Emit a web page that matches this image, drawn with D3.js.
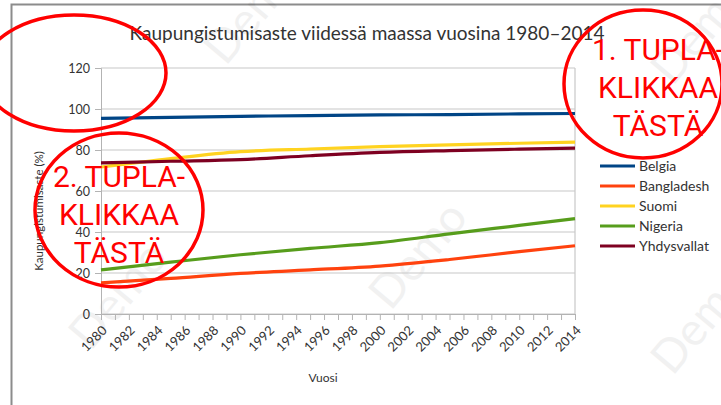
<!DOCTYPE html>
<html>
<head>
<meta charset="utf-8">
<script src="https://cdn.jsdelivr.net/npm/d3@7"></script>
<style>
  html, body { margin: 0; padding: 0; background: #fff; }
  svg { display: block; }
  text { font-family: Lato, "Open Sans", sans-serif; fill: #333; }
  .note { font-family: Roboto, "Liberation Sans", sans-serif; fill: #ff0000; }
</style>
</head>
<body>
<script>
const years = [1980, 1985, 1990, 1995, 2000, 2005, 2010, 2014];
const belgia = [95.4, 95.9, 96.4, 96.8, 97.1, 97.3, 97.6, 97.8];
const bangladesh = [15.2, 17.4, 19.8, 21.5, 23.4, 26.6, 30.4, 33.3];
const suomi = [71.7, 75.8, 79.2, 80.5, 81.6, 82.5, 83.3, 83.8];
const nigeria = [21.5, 25.3, 28.9, 32.0, 34.8, 39.1, 43.2, 46.5];
const yhdysvallat = [73.7, 74.5, 75.3, 77.2, 78.8, 79.7, 80.4, 80.9];
const seriesNames = ['Belgia', 'Bangladesh', 'Suomi', 'Nigeria', 'Yhdysvallat'];
const seriesColors = ['#004586', '#ff420e', '#ffd320', '#579d1c', '#7e0021'];
const yTicks = [0, 20, 40, 60, 80, 100, 120];

const W = 721, H = 405;
const plot = { left: 101, right: 575, top: 68, bottom: 314 };

const svg = d3.select('body').append('svg')
  .attr('width', W)
  .attr('height', H);

// outer frame
svg.append('rect')
  .attr('x', 11.5).attr('y', 4.5)
  .attr('width', W + 20).attr('height', H + 20)
  .attr('fill', '#fff')
  .attr('stroke', '#8c8c8c')
  .attr('stroke-width', 2);

// watermarks
const marks = [[265, 20], [130, 305], [430, 265], [712, 40], [712, 330]];
svg.selectAll('text.wm')
  .data(marks)
  .enter().append('text')
  .attr('class', 'wm')
  .attr('transform', d => `translate(${d[0]},${d[1]}) rotate(-50)`)
  .attr('text-anchor', 'middle')
  .attr('font-size', 46)
  .style('fill', '#000')
  .style('opacity', 0.05)
  .text('Demo');

const x = d3.scaleLinear().domain([1980, 2014]).range([plot.left, plot.right]);
const y = d3.scaleLinear().domain([0, 120]).range([plot.bottom, plot.top]);

// gridlines
svg.append('g')
  .selectAll('line')
  .data(yTicks)
  .enter().append('line')
  .attr('x1', plot.left).attr('x2', plot.right)
  .attr('y1', d => y(d)).attr('y2', d => y(d))
  .attr('stroke', '#c8c8c8')
  .attr('stroke-width', 1.2);

svg.append('line')
  .attr('x1', plot.right).attr('x2', plot.right)
  .attr('y1', plot.top).attr('y2', plot.bottom)
  .attr('stroke', '#c8c8c8')
  .attr('stroke-width', 1.2);

// y axis
const yAxis = svg.append('g')
  .attr('transform', `translate(${plot.left},0)`)
  .call(d3.axisLeft(y).tickValues(yTicks).tickSize(6).tickPadding(5));
yAxis.select('.domain').attr('stroke', '#b3b3b3');
yAxis.selectAll('.tick line').attr('stroke', '#b3b3b3');
yAxis.selectAll('text').attr('font-size', 12.5).style('font-family', 'Lato').style('fill', '#333');

// x axis, a tick every year, label every second year
const xAxis = svg.append('g')
  .attr('transform', `translate(0,${plot.bottom})`)
  .call(d3.axisBottom(x).tickValues(d3.range(1980, 2015)).tickSize(6).tickFormat(d => (d % 2 === 0 ? d : '')));
xAxis.select('.domain').attr('stroke', '#b3b3b3');
xAxis.selectAll('.tick line').attr('stroke', '#b3b3b3');
xAxis.selectAll('text')
  .attr('font-size', 13)
  .style('font-family', 'Lato')
  .style('fill', '#333')
  .attr('text-anchor', 'end')
  .attr('dy', '0.35em')
  .attr('transform', 'translate(3,14) rotate(-45)')
  .attr('x', 0).attr('y', 0);

// lines
const allValues = [belgia, bangladesh, suomi, nigeria, yhdysvallat];
const line = d3.line()
  .x((d, i) => x(years[i]))
  .y(d => y(d))
  .curve(d3.curveMonotoneX);

svg.append('g')
  .selectAll('path')
  .data(allValues)
  .enter().append('path')
  .attr('d', d => line(d))
  .attr('fill', 'none')
  .attr('stroke', (d, i) => seriesColors[i])
  .attr('stroke-width', 3.2);

// titles
svg.append('text')
  .attr('x', 367).attr('y', 40)
  .attr('text-anchor', 'middle')
  .attr('font-size', 19)
  .text('Kaupungistumisaste viidessä maassa vuosina 1980–2014');

svg.append('text')
  .attr('x', 323).attr('y', 382)
  .attr('text-anchor', 'middle')
  .attr('font-size', 12)
  .text('Vuosi');

svg.append('text')
  .attr('transform', 'translate(43,211) rotate(-90)')
  .attr('text-anchor', 'middle')
  .attr('font-size', 11.5)
  .text('Kaupungistumisaste (%)');

// legend
const legend = svg.append('g')
  .selectAll('g')
  .data(seriesNames)
  .enter().append('g')
  .attr('transform', (d, i) => `translate(600,${166 + i * 20})`);
legend.append('line')
  .attr('x1', 0).attr('x2', 35)
  .attr('stroke', (d, i) => seriesColors[i])
  .attr('stroke-width', 3.2);
legend.append('text')
  .attr('x', 39).attr('dy', '0.35em')
  .attr('font-size', 14)
  .text(d => d);

// red helper circles
const circles = [
  { cx: 74, cy: 73, rx: 92, ry: 58 },
  { cx: 119, cy: 210, rx: 84, ry: 77 },
  { cx: 643, cy: 84, rx: 79, ry: 74 },
];
svg.append('g')
  .selectAll('ellipse')
  .data(circles)
  .enter().append('ellipse')
  .attr('cx', d => d.cx).attr('cy', d => d.cy)
  .attr('rx', d => d.rx).attr('ry', d => d.ry)
  .attr('fill', 'none')
  .attr('stroke', '#ff0000')
  .attr('stroke-width', 3.5);

const notes = [
  { x: 658, y: 60, lines: ['1. TUPLA-', 'KLIKKAA', 'TÄSTÄ'] },
  { x: 119, y: 187, lines: ['2. TUPLA-', 'KLIKKAA', 'TÄSTÄ'] },
];
notes.forEach(n => {
  svg.append('text')
    .attr('class', 'note')
    .attr('text-anchor', 'middle')
    .attr('font-size', 30)
    .selectAll('tspan')
    .data(n.lines)
    .enter().append('tspan')
    .attr('x', n.x)
    .attr('y', (d, i) => n.y + i * 38)
    .text(d => d);
});
</script>
</body>
</html>
